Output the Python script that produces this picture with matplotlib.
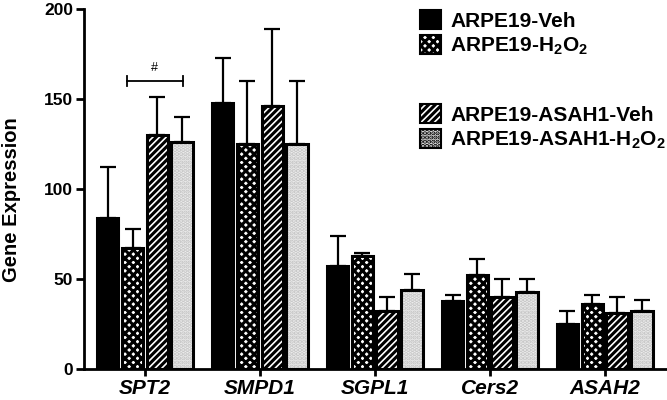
import matplotlib
matplotlib.use("Agg")
import matplotlib.pyplot as plt
import numpy as np
from matplotlib.patches import Patch

plt.rcParams['font.family'] = ['Liberation Sans', 'DejaVu Sans']
plt.rcParams['font.weight'] = 'bold'
plt.rcParams['mathtext.fontset'] = 'custom'
plt.rcParams['mathtext.rm'] = 'Liberation Sans:bold'
plt.rcParams['mathtext.bf'] = 'Liberation Sans:bold'
plt.rcParams['mathtext.default'] = 'bf'
plt.rcParams['hatch.linewidth'] = 2.2

# Data
genes = ['SPT2', 'SMPD1', 'SGPL1', 'Cers2', 'ASAH2']
series = ['ARPE19-Veh', 'ARPE19-H$_2$O$_2$',
          'ARPE19-ASAH1-Veh', 'ARPE19-ASAH1-H$_2$O$_2$']

veh = [84, 148, 57, 38, 25]
h2o2 = [67, 125, 63, 52, 36]
asah_veh = [130, 146, 32, 40, 31]
asah_h2o2 = [126, 125, 44, 43, 32]

# upper error (top of whisker)
veh_top = [112, 173, 74, 41, 32]
h2o2_top = [78, 160, 64.5, 61, 41]
asah_veh_top = [151, 189, 40, 50, 40]
asah_h2o2_top = [140, 160, 53, 50, 38.5]

values = [veh, h2o2, asah_veh, asah_h2o2]
tops = [veh_top, h2o2_top, asah_veh_top, asah_h2o2_top]

# style per series: (facecolor, hatch, hatch colour)
styles = [('black', None, 'black'),
          ('white', 'xxxx', 'black'),
          ('white', '/////', 'black'),
          ('#ececec', '....', '#c4c4c4')]

fig = plt.figure(figsize=(6.67, 4.0), dpi=100)
ax = fig.add_axes([0.126, 0.0775, 0.874, 0.9])

x = np.arange(len(genes))
slot = 0.217
width = 0.19

for i in range(4):
    pos = x + (i - 1.5) * slot
    fc, hatch, hc = styles[i]
    # fill + hatch
    ax.bar(pos, values[i], width=width, color=fc, hatch=hatch,
           edgecolor=hc, linewidth=0, zorder=2)
    # outline
    ax.bar(pos, values[i], width=width, facecolor='none',
           edgecolor='black', linewidth=2.2, zorder=3)
    err = np.array(tops[i]) - np.array(values[i])
    ax.errorbar(pos, values[i], yerr=[np.zeros(len(err)), err], fmt='none',
                ecolor='black', elinewidth=1.6, capsize=5.5, capthick=1.6,
                zorder=1)

# significance bracket for SPT2
bx0, bx1, by = -0.16, 0.33, 160
ax.plot([bx0, bx1], [by, by], color='black', lw=1.3)
ax.plot([bx0, bx0], [by - 2.8, by + 2.8], color='black', lw=1.3)
ax.plot([bx1, bx1], [by - 2.8, by + 2.8], color='black', lw=1.3)
ax.text((bx0 + bx1) / 2, by + 4, '#', ha='center', va='bottom',
        fontsize=9, fontweight='normal')

ax.set_xlim(-0.53, 4.54)
ax.set_ylim(0, 200)
ax.set_yticks([0, 50, 100, 150, 200])
ax.set_xticks(x)
ax.set_xticklabels(genes, fontstyle='italic', fontweight='bold', fontsize=15)
ax.tick_params(axis='y', labelsize=12.5, width=2, length=6, pad=2)
ax.tick_params(axis='x', width=2, length=5, pad=2)
fig.text(12 / 667, 1 - 200 / 400, 'Gene Expression', rotation=90,
         ha='center', va='center', fontsize=14.5, fontweight='bold')

for s in ['top', 'right']:
    ax.spines[s].set_visible(False)
for s in ['left', 'bottom']:
    ax.spines[s].set_linewidth(2)

def handle(i):
    fc, hatch, hc = styles[i]
    return Patch(facecolor=fc, hatch=hatch, edgecolor='black', linewidth=1.5)

leg_kw = dict(frameon=False, fontsize=15, handlelength=1.0, handleheight=1.0,
              handletextpad=0.45, labelspacing=0.2, borderpad=0, loc='upper left')
leg1 = fig.legend([handle(0), handle(1)], series[:2],
                  bbox_to_anchor=(0.614, 1.0), **leg_kw)
leg2 = fig.legend([handle(2), handle(3)], series[2:],
                  bbox_to_anchor=(0.614, 0.765), **leg_kw)

fig.savefig('out.png', dpi=100)
